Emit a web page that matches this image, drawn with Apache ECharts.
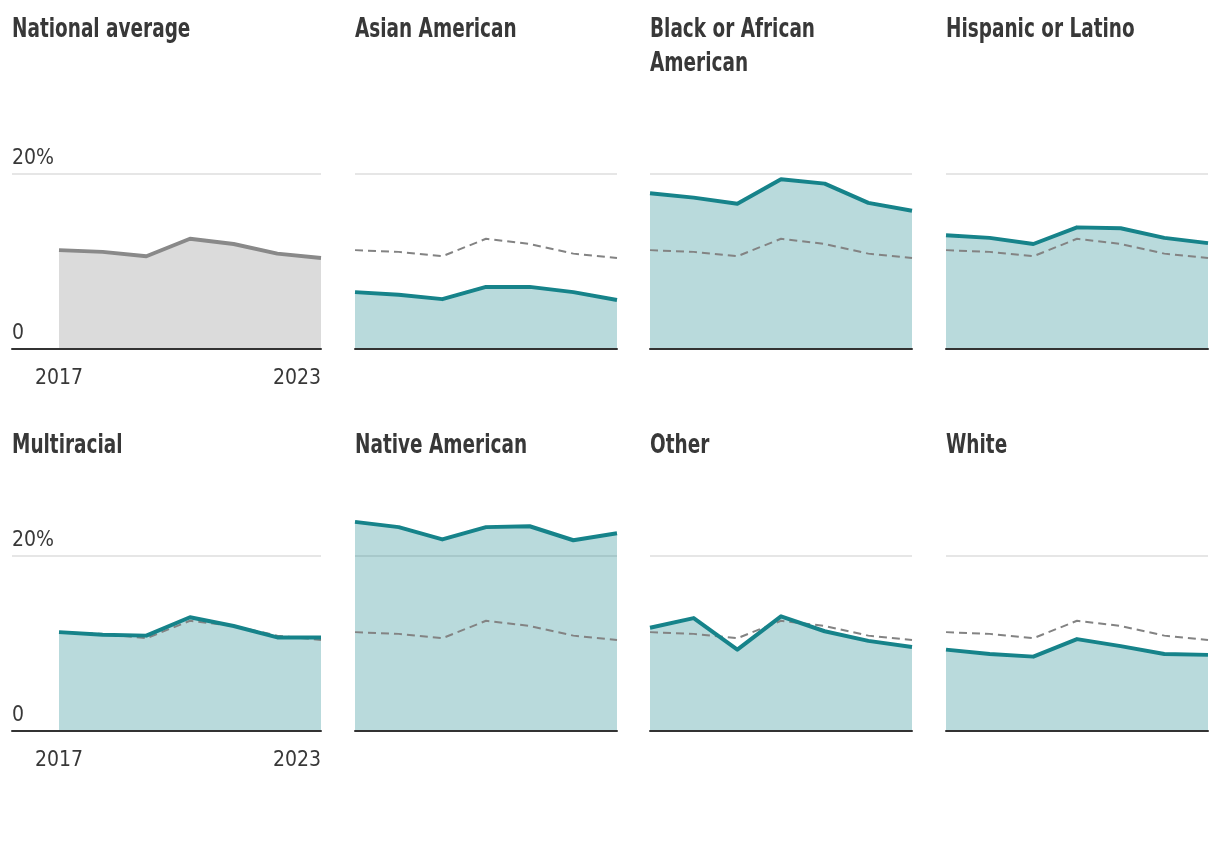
<!DOCTYPE html>
<html>
<head>
<meta charset="utf-8">
<script src="https://cdn.jsdelivr.net/npm/echarts@6/dist/echarts.min.js"></script>
<style>
html,body{margin:0;padding:0;background:#fff;}
#chart{width:1220px;height:854px;}
</style>
</head>
<body>
<div id="chart"></div>
<script>
// ---- data ----
const years = ['2017', '2018', '2019', '2020', '2021', '2022', '2023'];
const yTickLabels = { 0: '0', 20: '20%' };
const panelNames = ['National average', 'Asian American', 'Black or African\nAmerican', 'Hispanic or Latino',
                    'Multiracial', 'Native American', 'Other', 'White'];
const nationalAverage = [11.3, 11.1, 10.6, 12.6, 12.0, 10.9, 10.4];
const asianAmerican   = [6.5, 6.2, 5.7, 7.1, 7.1, 6.5, 5.6];
const blackAfrican    = [17.8, 17.3, 16.6, 19.4, 18.9, 16.7, 15.8];
const hispanicLatino  = [13.0, 12.7, 12.0, 13.9, 13.8, 12.7, 12.1];
const multiracial     = [11.3, 11.0, 10.9, 13.0, 12.0, 10.7, 10.7];
const nativeAmerican  = [23.9, 23.3, 21.9, 23.3, 23.4, 21.8, 22.6];
const otherGroup      = [11.8, 12.9, 9.3, 13.1, 11.4, 10.3, 9.6];
const whiteGroup      = [9.3, 8.8, 8.5, 10.5, 9.7, 8.8, 8.7];
const panelValues = [nationalAverage, asianAmerican, blackAfrican, hispanicLatino,
                     multiracial, nativeAmerican, otherGroup, whiteGroup];

// ---- style / layout ----
const FONT = "'DejaVu Sans Condensed', 'Liberation Sans Narrow', 'Roboto', sans-serif";
const TEAL = '#16838a';
const GRAY = '#898989';
const TEXT = '#383838';
const colLeft = [59, 355, 650, 946];
const plotW = 262;
const rowTop = [130.25, 512.25];
const plotH = 218.75;
const titleTop = [13, 429];

const grids = [], xAxes = [], yAxes = [], series = [], graphics = [];

function addGrid(left, width, top) {
  grids.push({ left: left, top: top, width: width, height: plotH });
  return grids.length - 1;
}

panelNames.forEach(function (name, i) {
  const row = Math.floor(i / 4), col = i % 4;
  const top = rowTop[row];
  const isNational = i === 0;
  const vals = panelValues[i];

  graphics.push({
    type: 'text', x: col === 0 ? 12 : colLeft[col], y: titleTop[row], scaleX: 0.76, silent: true,
    style: { text: name, fontFamily: FONT, fontSize: 27, fontWeight: 'bold', fill: TEXT,
             lineHeight: 34, verticalAlign: 'top', align: 'left' }
  });

  let dataGrid;
  const yBase = { type: 'value', min: 0, max: 25, interval: 20 };
  const labelFont = { fontFamily: FONT, fontSize: 21, color: TEXT };
  if (col === 0) {
    const g = addGrid(12, colLeft[0] + plotW - 12, top);
    xAxes.push({ gridIndex: g, type: 'value', min: 0, max: 1, z: 10,
      axisLine: { show: true, lineStyle: { color: '#333', width: 2 } },
      axisTick: { show: false }, axisLabel: { show: false }, splitLine: { show: false } });
    yAxes.push(Object.assign({ gridIndex: g, z: 0,
      axisLine: { show: false }, axisTick: { show: false },
      axisLabel: Object.assign({ show: true, inside: true, margin: 0, verticalAlign: 'bottom', align: 'left',
        padding: [0, 0, 5, 0], showMaxLabel: false,
        formatter: function (v) { return yTickLabels[v] !== undefined ? yTickLabels[v] : ''; } }, labelFont),
      splitLine: { show: true, showMinLine: false, showMaxLine: false, lineStyle: { color: '#e6e6e6', width: 2 } }
    }, yBase));
    dataGrid = addGrid(colLeft[0], plotW, top);
    xAxes.push({ gridIndex: dataGrid, type: 'category', data: years, boundaryGap: false,
      axisLine: { show: false }, axisTick: { show: false }, splitLine: { show: false },
      axisLabel: Object.assign({ show: true, margin: 19,
        interval: function (idx) { return idx === 0 || idx === years.length - 1; },
        alignMaxLabel: 'right', showMinLabel: true, showMaxLabel: true }, labelFont) });
    yAxes.push(Object.assign({ gridIndex: dataGrid, show: false, splitLine: { show: false } }, yBase));
  } else {
    dataGrid = addGrid(colLeft[col], plotW, top);
    xAxes.push({ gridIndex: dataGrid, type: 'category', data: years, boundaryGap: false, z: 10,
      axisLine: { show: true, lineStyle: { color: '#333', width: 2 } },
      axisTick: { show: false }, axisLabel: { show: false }, splitLine: { show: false } });
    yAxes.push(Object.assign({ gridIndex: dataGrid, z: 0,
      axisLine: { show: false }, axisTick: { show: false }, axisLabel: { show: false },
      splitLine: { show: true, showMinLine: false, showMaxLine: false, lineStyle: { color: '#e6e6e6', width: 2 } }
    }, yBase));
  }
  const axisIdx = xAxes.length - 1;
  const color = isNational ? GRAY : TEAL;

  series.push({ type: 'line', xAxisIndex: axisIdx, yAxisIndex: axisIdx, data: vals, z: 2,
    symbol: 'none', silent: true, animation: false,
    lineStyle: { width: 0, opacity: 0 },
    areaStyle: { color: color, opacity: 0.3 } });
  if (!isNational) {
    series.push({ type: 'line', xAxisIndex: axisIdx, yAxisIndex: axisIdx, data: nationalAverage, z: 3,
      symbol: 'none', silent: true, animation: false,
      lineStyle: { color: '#838383', width: 2, type: [8, 5] } });
  }
  series.push({ type: 'line', xAxisIndex: axisIdx, yAxisIndex: axisIdx, data: vals, z: 4,
    symbol: 'none', silent: true, animation: false,
    lineStyle: { color: color, width: 4, join: 'round' } });
});

const chart = echarts.init(document.getElementById('chart'), null, { renderer: 'canvas' });
chart.setOption({
  backgroundColor: '#ffffff',
  animation: false,
  graphic: graphics,
  grid: grids,
  xAxis: xAxes,
  yAxis: yAxes,
  series: series
});
</script>
</body>
</html>
